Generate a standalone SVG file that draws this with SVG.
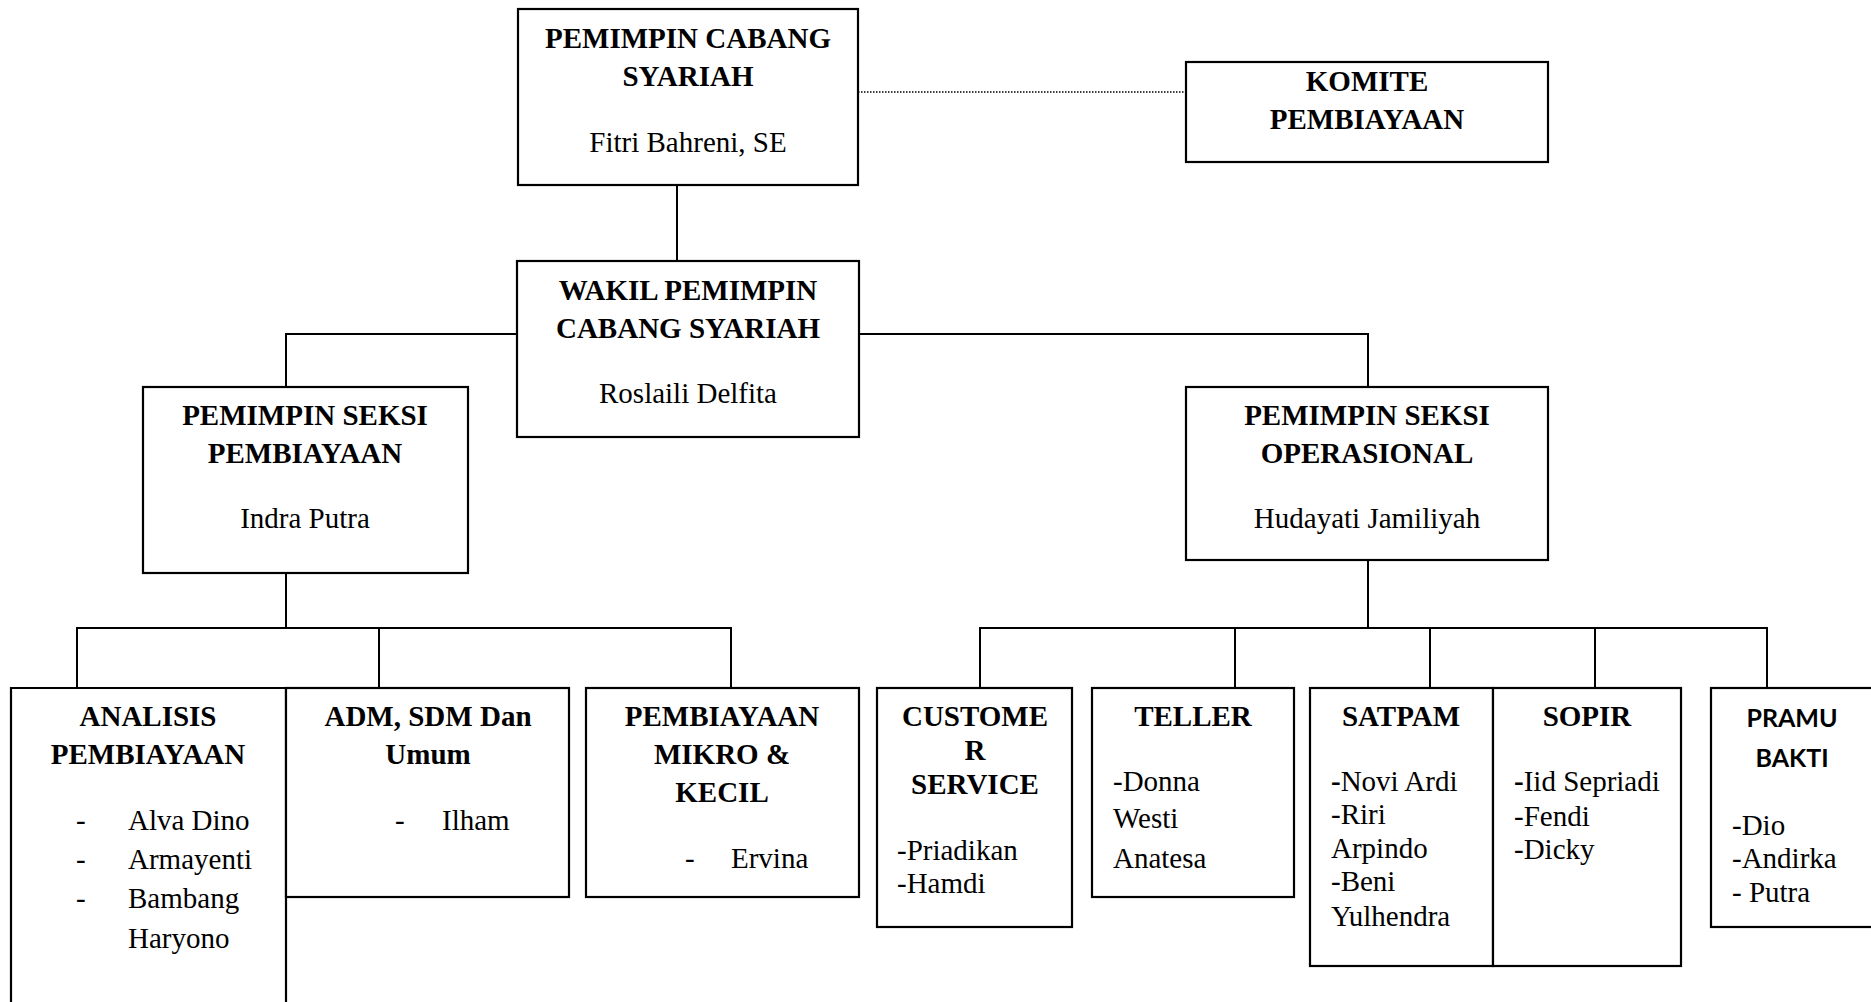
<svg xmlns="http://www.w3.org/2000/svg" width="1871" height="1002" viewBox="0 0 1871 1002">
<style>
.box{fill:#fff;stroke:#000;stroke-width:2.2}
.ln{fill:none;stroke:#000;stroke-width:2}
.dot{fill:none;stroke:#000;stroke-width:1.3;stroke-dasharray:1.5 1.5}
text{font-family:"Liberation Serif","Times New Roman",serif;font-size:29px;fill:#000}
.b{font-weight:bold}
.c{text-anchor:middle}
.sans{font-family:Lato,"Liberation Sans",sans-serif;font-size:25px;font-weight:bold}
</style>
<rect width="1871" height="1002" fill="#fff"/>
<g id="connectors">
<path class="dot" d="M858 92H1186"/>
<path class="ln" d="M677 185V261"/>
<path class="ln" d="M517 334H286V387M859 334H1368V387"/>
<path class="ln" d="M286 573V628M77 688V628H731V688M379 628V688"/>
<path class="ln" d="M1368 560V628M980 688V628H1767V688M1235 628V688M1430 628V688M1595 628V688"/>
</g>
<g id="pemimpin-cabang">
<rect class="box" x="518" y="9" width="340" height="176"/>
<text class="b c" x="688" y="48">PEMIMPIN CABANG</text>
<text class="b c" x="688" y="86">SYARIAH</text>
<text class="c" x="688" y="152">Fitri Bahreni, SE</text>
</g>
<g id="komite">
<rect class="box" x="1186" y="62" width="362" height="100"/>
<text class="b c" x="1367" y="91">KOMITE</text>
<text class="b c" x="1367" y="129">PEMBIAYAAN</text>
</g>
<g id="wakil">
<rect class="box" x="517" y="261" width="342" height="176"/>
<text class="b c" x="688" y="300">WAKIL PEMIMPIN</text>
<text class="b c" x="688" y="338">CABANG SYARIAH</text>
<text class="c" x="688" y="403">Roslaili Delfita</text>
</g>
<g id="seksi-pembiayaan">
<rect class="box" x="143" y="387" width="325" height="186"/>
<text class="b c" x="305" y="425">PEMIMPIN SEKSI</text>
<text class="b c" x="305" y="463">PEMBIAYAAN</text>
<text class="c" x="305" y="528">Indra Putra</text>
</g>
<g id="seksi-operasional">
<rect class="box" x="1186" y="387" width="362" height="173"/>
<text class="b c" x="1367" y="425">PEMIMPIN SEKSI</text>
<text class="b c" x="1367" y="463">OPERASIONAL</text>
<text class="c" x="1367" y="528">Hudayati Jamiliyah</text>
</g>
<g id="analisis">
<path class="box" d="M11 1010V688H286V1010"/>
<text class="b c" x="148" y="726">ANALISIS</text>
<text class="b c" x="148" y="764">PEMBIAYAAN</text>
<text x="76" y="830">-</text><text x="128" y="830">Alva Dino</text>
<text x="76" y="869">-</text><text x="128" y="869">Armayenti</text>
<text x="76" y="908">-</text><text x="128" y="908">Bambang</text>
<text x="128" y="948">Haryono</text>
</g>
<g id="adm">
<rect class="box" x="286" y="688" width="283" height="209"/>
<text class="b c" x="428" y="726">ADM, SDM Dan</text>
<text class="b c" x="428" y="764">Umum</text>
<text x="395" y="830">-</text><text x="442" y="830">Ilham</text>
</g>
<g id="mikro">
<rect class="box" x="586" y="688" width="273" height="209"/>
<text class="b c" x="722" y="726">PEMBIAYAAN</text>
<text class="b c" x="722" y="764">MIKRO &amp;</text>
<text class="b c" x="722" y="802">KECIL</text>
<text x="685" y="868">-</text><text x="731" y="868">Ervina</text>
</g>
<g id="customer-service">
<rect class="box" x="877" y="688" width="195" height="239"/>
<text class="b c" x="975" y="726">CUSTOME</text>
<text class="b c" x="975" y="760">R</text>
<text class="b c" x="975" y="794">SERVICE</text>
<text x="897" y="860">-Priadikan</text>
<text x="897" y="893">-Hamdi</text>
</g>
<g id="teller">
<rect class="box" x="1092" y="688" width="202" height="209"/>
<text class="b c" x="1193" y="726">TELLER</text>
<text x="1113" y="791">-Donna</text>
<text x="1113" y="828">Westi</text>
<text x="1113" y="868">Anatesa</text>
</g>
<g id="satpam">
<rect class="box" x="1310" y="688" width="183" height="278"/>
<text class="b c" x="1401" y="726">SATPAM</text>
<text x="1331" y="791"><tspan class="b">-</tspan>Novi Ardi</text>
<text x="1331" y="824">-Riri</text>
<text x="1331" y="858">Arpindo</text>
<text x="1331" y="891">-Beni</text>
<text x="1331" y="926">Yulhendra</text>
</g>
<g id="sopir">
<rect class="box" x="1493" y="688" width="188" height="278"/>
<text class="b c" x="1587" y="726">SOPIR</text>
<text x="1514" y="791"><tspan class="b">-</tspan>Iid Sepriadi</text>
<text x="1514" y="826">-Fendi</text>
<text x="1514" y="859">-Dicky</text>
</g>
<g id="pramu-bakti">
<rect class="box" x="1711" y="688" width="180" height="239"/>
<text class="sans c" x="1792" y="727">PRAMU</text>
<text class="sans c" x="1792" y="767">BAKTI</text>
<text x="1732" y="835">-Dio</text>
<text x="1732" y="868">-Andirka</text>
<text x="1732" y="902">- Putra</text>
</g>
</svg>
